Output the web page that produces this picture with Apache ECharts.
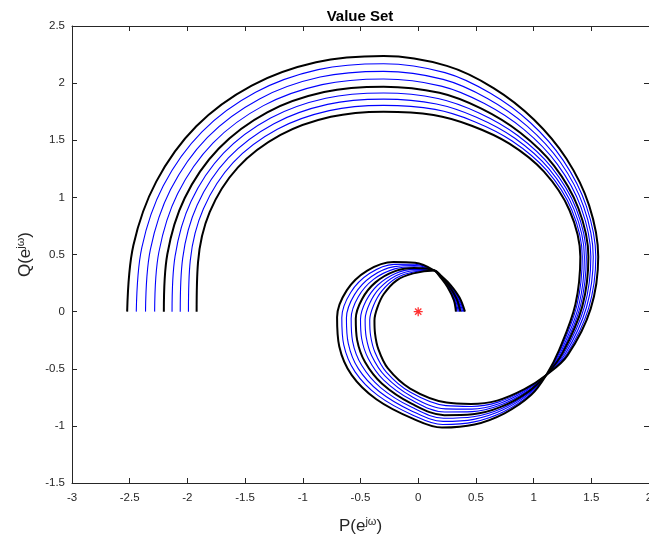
<!DOCTYPE html>
<html>
<head>
<meta charset="utf-8">
<title>Value Set</title>
<script src="https://cdn.jsdelivr.net/npm/echarts@6/dist/echarts.min.js"></script>
<style>
  html, body { margin: 0; padding: 0; background: #ffffff; }
  #chart { width: 649px; height: 544px; }
</style>
</head>
<body>
<div id="chart"></div>
<script>
// Value set of the polynomial family: P(e^jw) against Q(e^jw), w running from 0 to pi.
// Nine members of the family; members 1, 5 and 9 are the edge/centre curves (black),
// the others lie between them (blue). Each is a list of [P, Q] points.
const member1 = [[0.405,0],[0.358,0.123],[0.279,0.235],[0.201,0.311],[0.14,0.36],[-0.043,0.335],[-0.186,0.274],[-0.298,0.154],[-0.354,0.035],[-0.379,-0.077],[-0.374,-0.192],[-0.346,-0.326],[-0.264,-0.495],[-0.070,-0.673],[0.245,-0.796],[0.457,-0.808],[0.684,-0.779],[0.921,-0.679],[1.11,-0.555],[1.294,-0.383],[1.495,0.026],[1.56,0.48],[1.481,0.930],[1.285,1.338],[1.002,1.682],[0.653,1.957],[0.248,2.151],[-0.3,2.237],[-0.885,2.183],[-1.443,1.979],[-1.923,1.623],[-2.270,1.138],[-2.468,0.581],[-2.522,0]];
const member2 = [[0.395,0],[0.351,0.120],[0.276,0.232],[0.200,0.310],[0.14,0.36],[-0.041,0.347],[-0.190,0.294],[-0.316,0.180],[-0.387,0.054],[-0.420,-0.074],[-0.413,-0.207],[-0.375,-0.355],[-0.276,-0.529],[-0.067,-0.706],[0.240,-0.823],[0.461,-0.830],[0.692,-0.792],[0.928,-0.685],[1.11,-0.555],[1.284,-0.377],[1.477,0.031],[1.539,0.48],[1.457,0.924],[1.258,1.322],[0.973,1.653],[0.626,1.911],[0.232,2.092],[-0.3,2.170],[-0.867,2.118],[-1.409,1.920],[-1.874,1.574],[-2.209,1.102],[-2.395,0.561],[-2.443,0]];
const member3 = [[0.386,0],[0.345,0.117],[0.273,0.230],[0.199,0.309],[0.14,0.36],[-0.039,0.358],[-0.193,0.314],[-0.334,0.205],[-0.420,0.073],[-0.460,-0.070],[-0.451,-0.221],[-0.404,-0.384],[-0.288,-0.563],[-0.064,-0.739],[0.235,-0.851],[0.465,-0.853],[0.700,-0.806],[0.935,-0.691],[1.11,-0.555],[1.274,-0.371],[1.458,0.036],[1.517,0.48],[1.434,0.918],[1.232,1.307],[0.944,1.624],[0.600,1.866],[0.216,2.033],[-0.3,2.103],[-0.850,2.053],[-1.375,1.862],[-1.826,1.526],[-2.147,1.066],[-2.321,0.542],[-2.363,0]];
const member4 = [[0.376,0],[0.339,0.114],[0.270,0.227],[0.198,0.307],[0.14,0.36],[-0.037,0.370],[-0.197,0.334],[-0.352,0.231],[-0.453,0.092],[-0.500,-0.067],[-0.490,-0.235],[-0.432,-0.412],[-0.301,-0.597],[-0.061,-0.772],[0.230,-0.878],[0.469,-0.875],[0.708,-0.820],[0.943,-0.697],[1.11,-0.555],[1.264,-0.365],[1.440,0.041],[1.496,0.48],[1.411,0.912],[1.205,1.291],[0.915,1.595],[0.574,1.821],[0.200,1.974],[-0.3,2.036],[-0.833,1.987],[-1.341,1.803],[-1.777,1.477],[-2.085,1.031],[-2.247,0.522],[-2.284,0]];
const member5 = [[0.366,0],[0.333,0.111],[0.267,0.225],[0.197,0.306],[0.14,0.36],[-0.035,0.381],[-0.200,0.354],[-0.370,0.256],[-0.486,0.111],[-0.541,-0.063],[-0.529,-0.249],[-0.461,-0.441],[-0.313,-0.631],[-0.058,-0.805],[0.226,-0.906],[0.473,-0.898],[0.716,-0.834],[0.950,-0.704],[1.11,-0.555],[1.253,-0.359],[1.422,0.046],[1.475,0.48],[1.388,0.905],[1.178,1.276],[0.885,1.565],[0.548,1.776],[0.184,1.915],[-0.3,1.969],[-0.815,1.922],[-1.308,1.745],[-1.728,1.428],[-2.023,0.995],[-2.174,0.502],[-2.204,0]];
const member6 = [[0.356,0],[0.327,0.108],[0.264,0.222],[0.196,0.304],[0.14,0.36],[-0.033,0.393],[-0.204,0.374],[-0.387,0.282],[-0.519,0.130],[-0.581,-0.060],[-0.568,-0.263],[-0.490,-0.470],[-0.326,-0.665],[-0.055,-0.838],[0.221,-0.933],[0.477,-0.920],[0.724,-0.848],[0.958,-0.710],[1.11,-0.555],[1.245,-0.355],[1.406,0.050],[1.457,0.48],[1.369,0.900],[1.156,1.263],[0.862,1.542],[0.527,1.739],[0.171,1.866],[-0.3,1.914],[-0.801,1.868],[-1.279,1.695],[-1.687,1.387],[-1.969,0.964],[-2.107,0.484],[-2.133,0]];
const member7 = [[0.347,0],[0.321,0.106],[0.261,0.219],[0.195,0.303],[0.14,0.36],[-0.031,0.404],[-0.207,0.394],[-0.405,0.308],[-0.552,0.149],[-0.622,-0.056],[-0.606,-0.277],[-0.519,-0.499],[-0.338,-0.699],[-0.053,-0.871],[0.216,-0.961],[0.481,-0.943],[0.732,-0.862],[0.965,-0.716],[1.11,-0.555],[1.237,-0.350],[1.392,0.054],[1.440,0.48],[1.350,0.895],[1.134,1.250],[0.838,1.518],[0.505,1.702],[0.158,1.818],[-0.3,1.860],[-0.786,1.814],[-1.250,1.645],[-1.645,1.345],[-1.915,0.933],[-2.041,0.466],[-2.062,0]];
const member8 = [[0.337,0],[0.315,0.103],[0.258,0.217],[0.194,0.302],[0.14,0.36],[-0.029,0.415],[-0.211,0.414],[-0.423,0.333],[-0.585,0.168],[-0.662,-0.053],[-0.645,-0.291],[-0.547,-0.527],[-0.350,-0.733],[-0.050,-0.904],[0.211,-0.988],[0.485,-0.965],[0.740,-0.876],[0.972,-0.722],[1.11,-0.555],[1.229,-0.345],[1.376,0.058],[1.422,0.48],[1.331,0.890],[1.112,1.238],[0.814,1.494],[0.484,1.665],[0.146,1.770],[-0.3,1.805],[-0.771,1.759],[-1.221,1.596],[-1.604,1.304],[-1.861,0.901],[-1.975,0.449],[-1.991,0]];
const member9 = [[0.327,0],[0.309,0.100],[0.255,0.214],[0.193,0.300],[0.14,0.36],[-0.027,0.427],[-0.214,0.434],[-0.441,0.359],[-0.618,0.188],[-0.703,-0.049],[-0.684,-0.305],[-0.576,-0.556],[-0.363,-0.767],[-0.047,-0.937],[0.206,-1.015],[0.489,-0.988],[0.748,-0.890],[0.980,-0.728],[1.11,-0.555],[1.220,-0.340],[1.362,0.062],[1.405,0.48],[1.312,0.885],[1.090,1.225],[0.790,1.470],[0.463,1.627],[0.133,1.721],[-0.3,1.75],[-0.757,1.705],[-1.193,1.546],[-1.562,1.262],[-1.807,0.870],[-1.908,0.431],[-1.92,0]];

const blueMembers = [member2, member3, member4, member6, member7, member8];
const blackMembers = [member1, member5, member9];

// the origin, marked with a red asterisk
const origin = [[0, 0]];

// axis ranges and tick steps
const pRange = [-3, 2];
const qRange = [-1.5, 2.5];
const tickStep = 0.5;

const FONT = "'Liberation Sans', Arial, Helvetica, sans-serif";
const AXIS_COLOR = '#262626';

function curve(data, color, width) {
  return {
    type: 'line',
    data: data,
    showSymbol: false,
    symbol: 'none',
    smooth: 0.35,
    smoothConstraint: false,
    lineStyle: { color: color, width: width },
    silent: true,
    z: color === '#000000' ? 3 : 2
  };
}

const series = [];
blueMembers.forEach(m => series.push(curve(m, '#0000ff', 1.1)));
blackMembers.forEach(m => series.push(curve(m, '#000000', 2)));
series.push({
  type: 'scatter',
  data: origin,
  symbol: 'path://M0,-1L0,1M-1,0L1,0M-0.7,-0.7L0.7,0.7M-0.7,0.7L0.7,-0.7',
  symbolSize: 9,
  itemStyle: { color: 'none', borderColor: '#ff0000', borderWidth: 1.3 },
  z: 5,
  silent: true
});

const tickCommon = { show: true, inside: true, length: 5, lineStyle: { color: AXIS_COLOR, width: 1 } };
const labelCommon = { color: AXIS_COLOR, fontSize: 11.5, fontFamily: FONT };

const option = {
  animation: false,
  backgroundColor: '#ffffff',
  title: {
    text: 'Value Set',
    left: 355,
    textAlign: 'center',
    top: 4,
    textStyle: { fontSize: 15, fontWeight: 'bold', color: '#000000', fontFamily: FONT }
  },
  grid: { left: 72, top: 26, width: 577, height: 457, containLabel: false, outerBoundsMode: 'none' },
  xAxis: [
    {
      type: 'value', min: pRange[0], max: pRange[1], interval: tickStep, position: 'bottom',
      axisLine: { show: true, onZero: false, lineStyle: { color: AXIS_COLOR, width: 1 } },
      axisTick: tickCommon,
      axisLabel: Object.assign({ margin: 9 }, labelCommon),
      splitLine: { show: false },
      name: 'P(e{s|jω})',
      nameLocation: 'middle',
      nameGap: 33,
      nameTextStyle: {
        fontSize: 17, color: AXIS_COLOR, fontFamily: FONT,
        rich: { s: { fontSize: 11, fontFamily: FONT, color: AXIS_COLOR, verticalAlign: 'top', lineHeight: 20 } }
      }
    },
    {
      type: 'value', min: pRange[0], max: pRange[1], interval: tickStep, position: 'top',
      axisLine: { show: true, onZero: false, lineStyle: { color: AXIS_COLOR, width: 1 } },
      axisTick: tickCommon,
      axisLabel: { show: false },
      splitLine: { show: false }
    }
  ],
  yAxis: [
    {
      type: 'value', min: qRange[0], max: qRange[1], interval: tickStep, position: 'left',
      axisLine: { show: true, onZero: false, lineStyle: { color: AXIS_COLOR, width: 1 } },
      axisTick: tickCommon,
      axisLabel: Object.assign({ margin: 7 }, labelCommon),
      splitLine: { show: false },
      name: 'Q(e{s|jω})',
      nameLocation: 'middle',
      nameGap: 34,
      nameRotate: 90,
      nameTextStyle: {
        fontSize: 17, color: AXIS_COLOR, fontFamily: FONT,
        rich: { s: { fontSize: 11, fontFamily: FONT, color: AXIS_COLOR, verticalAlign: 'top', lineHeight: 20 } }
      }
    },
    {
      type: 'value', min: qRange[0], max: qRange[1], interval: tickStep, position: 'right',
      axisLine: { show: false, onZero: false },
      axisTick: tickCommon,
      axisLabel: { show: false },
      splitLine: { show: false }
    }
  ],
  series: series
};

const chart = echarts.init(document.getElementById('chart'), null, { renderer: 'canvas' });
chart.setOption(option);
</script>
</body>
</html>
